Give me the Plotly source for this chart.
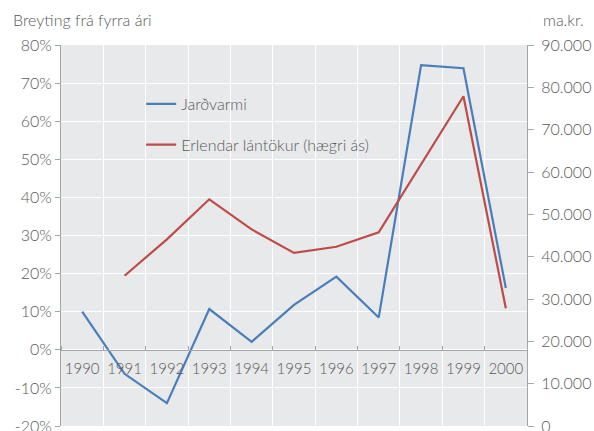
import plotly.graph_objects as go

years = [1990, 1991, 1992, 1993, 1994, 1995, 1996, 1997, 1998, 1999, 2000]
jardvarmi = [10.0, -6.3, -14.0, 10.7, 2.1, 11.8, 19.2, 8.5, 74.7, 73.9, 16.2]
erlendar = [None, 35500, 44100, 53550, 46450, 40900, 42350, 45750, 61800, 77900, 27800]

left_vals = [-20, -10, 0, 10, 20, 30, 40, 50, 60, 70, 80]
left_text = ["-20%", "-10%", "0%", "10%", "20%", "30%", "40%", "50%", "60%", "70%", "80%"]
right_vals = [0, 10000, 20000, 30000, 40000, 50000, 60000, 70000, 80000, 90000]
right_text = ["0", "10.000", "20.000", "30.000", "40.000", "50.000", "60.000", "70.000", "80.000", "90.000"]
boundaries = [y + 0.5 for y in [1989] + years]

FONT = "Lato"
W = 300
GRAY = "#595959"
AXIS = "#A6A6A6"


def f(size=16):
    return dict(family=FONT, size=size, color=GRAY, weight=W)


fig = go.Figure()
fig.add_trace(go.Scatter(x=years, y=jardvarmi, name="Jarðvarmi", mode="lines",
                         line=dict(color="#4A7EBB", width=2.2), legendgroup="a"))
fig.add_trace(go.Scatter(x=years, y=erlendar, name="Erlendar lántökur (hægri ás)", mode="lines",
                         line=dict(color="#BE4B48", width=2.2), yaxis="y2", legendgroup="b"))

fig.update_layout(
    width=594, height=431,
    margin=dict(l=61, r=67, t=45, b=5, autoexpand=False),
    paper_bgcolor="white", plot_bgcolor="#E8E9EB",
    font=f(),
    xaxis=dict(range=[1989.5, 2000.5], tickvals=years, ticktext=[str(y) for y in years],
               showgrid=False, zeroline=False, anchor="free", position=0.2, automargin=False,
               showline=True, linecolor=AXIS, linewidth=1, ticks="", ticklen=0,
               ticklabelstandoff=5, tickfont=f(15),
               minor=dict(tickvals=boundaries, showgrid=True, gridcolor="white", gridwidth=1.3,
                          ticks="inside", ticklen=4, tickcolor=AXIS)),
    yaxis=dict(range=[-20, 80], tickvals=left_vals, ticktext=left_text, automargin=False,
               showgrid=True, gridcolor="white", gridwidth=1.3, zeroline=False,
               showline=True, linecolor=AXIS, linewidth=1.2, ticks="outside", ticklen=5,
               ticklabeloverflow="allow",
               tickcolor=AXIS, tickfont=f()),
    yaxis2=dict(range=[0, 90000], tickvals=right_vals, ticktext=right_text, overlaying="y",
                side="right", showgrid=False, zeroline=False, automargin=False,
                showline=True, linecolor=AXIS, linewidth=1.2, ticks="outside", ticklen=6,
                ticklabelstandoff=4, ticklabeloverflow="allow",
                tickcolor=AXIS, tickfont=f()),
    legend=dict(x=0.172, y=0.89, xanchor="left", yanchor="top", bgcolor="rgba(0,0,0,0)",
                font=f(), tracegroupgap=17),
    showlegend=True,
    annotations=[
        dict(text="Breyting frá fyrra ári", x=0, y=1, xref="paper", yref="paper",
             xshift=-50, yshift=26, xanchor="left", yanchor="middle", showarrow=False,
             font=f()),
        dict(text="ma.kr.", x=1, y=1, xref="paper", yref="paper",
             xshift=14, yshift=26, xanchor="left", yanchor="middle", showarrow=False,
             font=f()),
    ],
)

fig.write_html("out.html", config={"displayModeBar": False},
               post_script="document.body.style.margin='0';")
